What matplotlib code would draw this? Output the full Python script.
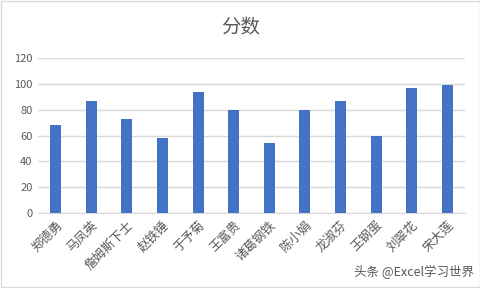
import matplotlib.pyplot as plt
from matplotlib.patches import Rectangle

plt.rcParams['font.family'] = ['Noto Sans CJK SC', 'DejaVu Sans']

names = ['郑德勇', '马凤英', '詹姆斯下士', '赵铁锤', '于予菊', '王富贵',
         '诸葛钢铁', '陈小娟', '龙淑芬', '王钢蛋', '刘翠花', '宋大莲']
scores = [68, 87, 73, 58, 94, 80, 54, 80, 87, 60, 97, 99]
yticks = [0, 20, 40, 60, 80, 100, 120]

fig = plt.figure(figsize=(4.81, 2.88), dpi=100)
ax = fig.add_axes([38 / 481, 1 - 213 / 288, 427 / 481, 155 / 288])

ax.bar(range(len(names)), scores, width=0.31, color='#4472C4', zorder=3)
ax.set_xlim(-0.5, len(names) - 0.5)
ax.set_ylim(0, 120)
ax.set_yticks(yticks)
ax.grid(axis='y', color='#D9D9D9', linewidth=1, zorder=0)
for s in ['top', 'right', 'left']:
    ax.spines[s].set_visible(False)
ax.spines['bottom'].set_color('#D9D9D9')
ax.tick_params(axis='y', length=0, labelsize=8, colors='#595959', pad=4)
ax.tick_params(axis='x', length=0, labelsize=9, colors='#595959', pad=4)
ax.set_xticks(range(len(names)))
ax.set_xticklabels(names, rotation=45, ha='right', rotation_mode='anchor')

fig.text(0.5, 1 - 28 / 288, '分数', ha='center', va='center',
         fontsize=14, color='#595959')
fig.text(474 / 481, 1 - 272 / 288, '头条 @Excel学习世界', ha='right', va='center',
         fontsize=9, color='#595959')

fig.patches.append(Rectangle((0.002, 0.003), 0.995, 0.994, transform=fig.transFigure,
                             fill=False, edgecolor='#D9D9D9', linewidth=1))

fig.savefig('out.png', dpi=100)
